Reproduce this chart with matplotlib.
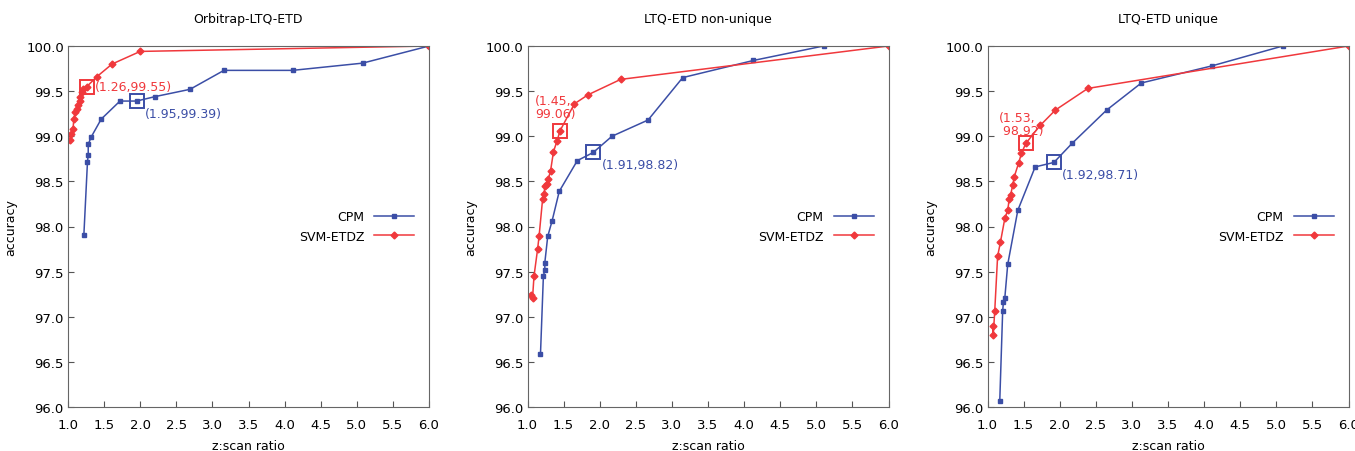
import matplotlib
matplotlib.use("Agg")
import matplotlib.pyplot as plt

titles = ["Orbitrap-LTQ-ETD", "LTQ-ETD non-unique", "LTQ-ETD unique"]

# CPM curves (z:scan ratio, accuracy)
cpm_x = [
    [1.22, 1.27, 1.28, 1.28, 1.32, 1.46, 1.72, 1.95, 2.21, 2.69, 3.16, 4.11, 5.08, 6.0],
    [1.18, 1.22, 1.24, 1.24, 1.28, 1.34, 1.44, 1.69, 1.91, 2.17, 2.67, 3.15, 4.13, 5.10],
    [1.17, 1.21, 1.22, 1.24, 1.28, 1.42, 1.66, 1.92, 2.17, 2.65, 3.13, 4.11, 5.09],
]
cpm_y = [
    [97.91, 98.72, 98.79, 98.91, 98.99, 99.19, 99.39, 99.39, 99.44, 99.52, 99.73, 99.73, 99.81, 100.0],
    [96.59, 97.45, 97.52, 97.60, 97.89, 98.06, 98.39, 98.73, 98.82, 99.00, 99.18, 99.65, 99.84, 100.0],
    [96.07, 97.06, 97.16, 97.21, 97.58, 98.18, 98.66, 98.71, 98.92, 99.29, 99.59, 99.78, 100.0],
]

# SVM-ETDZ curves
svm_x = [
    [1.03, 1.04, 1.07, 1.08, 1.10, 1.12, 1.14, 1.16, 1.17, 1.19, 1.21, 1.26, 1.40, 1.61, 2.0, 6.0],
    [1.05, 1.07, 1.09, 1.14, 1.16, 1.21, 1.23, 1.24, 1.27, 1.29, 1.32, 1.36, 1.41, 1.45, 1.65, 1.84, 2.29, 6.0],
    [1.07, 1.08, 1.10, 1.14, 1.18, 1.24, 1.28, 1.30, 1.32, 1.35, 1.37, 1.43, 1.47, 1.53, 1.73, 1.94, 2.39, 6.0],
]
svm_y = [
    [98.96, 99.02, 99.08, 99.19, 99.27, 99.30, 99.35, 99.39, 99.43, 99.49, 99.52, 99.55, 99.66, 99.80, 99.94, 100.0],
    [97.24, 97.21, 97.45, 97.75, 97.89, 98.31, 98.36, 98.45, 98.47, 98.53, 98.62, 98.83, 98.95, 99.06, 99.36, 99.46, 99.63, 100.0],
    [96.90, 96.80, 97.06, 97.67, 97.83, 98.09, 98.18, 98.30, 98.35, 98.46, 98.55, 98.70, 98.81, 98.92, 99.12, 99.29, 99.53, 100.0],
]

# highlighted operating points
cpm_pick = [(1.95, 99.39), (1.91, 98.82), (1.92, 98.71)]
svm_pick = [(1.26, 99.55), (1.45, 99.06), (1.53, 98.92)]
cpm_labels = ["(1.95,99.39)", "(1.91,98.82)", "(1.92,98.71)"]
svm_labels = ["(1.26,99.55)", "(1.45,\n99.06)", "(1.53,\n 98.92)"]

xticks = [1.0, 1.5, 2.0, 2.5, 3.0, 3.5, 4.0, 4.5, 5.0, 5.5, 6.0]
yticks = [96.0, 96.5, 97.0, 97.5, 98.0, 98.5, 99.0, 99.5, 100.0]

blue = "#3b4ea6"
red = "#f0383c"

fig = plt.figure(figsize=(13.55, 4.52), dpi=100)
lefts = [68 / 1355, 527.5 / 1355, 987.5 / 1355]
w = 361 / 1355
b = 1 - 408 / 452
h = 361 / 452

# annotation offsets (points) and alignment per panel
svm_off = [(6, 0, "left", "center"), (11, 8, "right", "bottom"), (13, 5, "right", "bottom")]
cpm_off = [(6, -4, "left", "top"), (6, -4, "left", "top"), (6, -4, "left", "top")]

for i in range(3):
    ax = fig.add_axes([lefts[i], b, w, h])
    ax.plot(cpm_x[i], cpm_y[i], color=blue, lw=1.1, marker="s", ms=3.5, label="CPM")
    ax.plot(svm_x[i], svm_y[i], color=red, lw=1.1, marker="D", ms=3.5, label="SVM-ETDZ")

    ax.plot(*cpm_pick[i], marker="s", ms=10, mfc="none", mec=blue, mew=1.4)
    ax.plot(*svm_pick[i], marker="s", ms=10, mfc="none", mec=red, mew=1.4)

    dx, dy, ha, va = cpm_off[i]
    ax.annotate(cpm_labels[i], cpm_pick[i], xytext=(dx, dy), textcoords="offset points",
                color=blue, fontsize=9, ha=ha, va=va)
    dx, dy, ha, va = svm_off[i]
    ax.annotate(svm_labels[i], svm_pick[i], xytext=(dx, dy), textcoords="offset points",
                color=red, fontsize=9, ha=ha, va=va, linespacing=1.0,
                multialignment="left")

    ax.set_xlim(1.0, 6.0)
    ax.set_ylim(96.0, 100.0)
    ax.set_xticks(xticks)
    ax.set_yticks(yticks)
    ax.set_xticklabels(["%.1f" % t for t in xticks], fontsize=9.5)
    ax.set_yticklabels(["%.1f" % t for t in yticks], fontsize=9.5)
    ax.tick_params(direction="in", length=4, color="#555555")
    ax.tick_params(axis="x", pad=8)
    ax.tick_params(axis="y", pad=3)
    for s in ax.spines.values():
        s.set_color("#666666")
    ax.set_title(titles[i], fontsize=9, pad=17)
    ax.set_xlabel("z:scan ratio", fontsize=9, labelpad=6)
    ax.set_ylabel("accuracy", fontsize=9, labelpad=6)
    ax.legend(loc="center right", bbox_to_anchor=(0.99, 0.5), frameon=False,
              markerfirst=False, fontsize=9, handlelength=3.2, labelspacing=0.5,
              handletextpad=0.8)

fig.savefig("out.png", dpi=100)
